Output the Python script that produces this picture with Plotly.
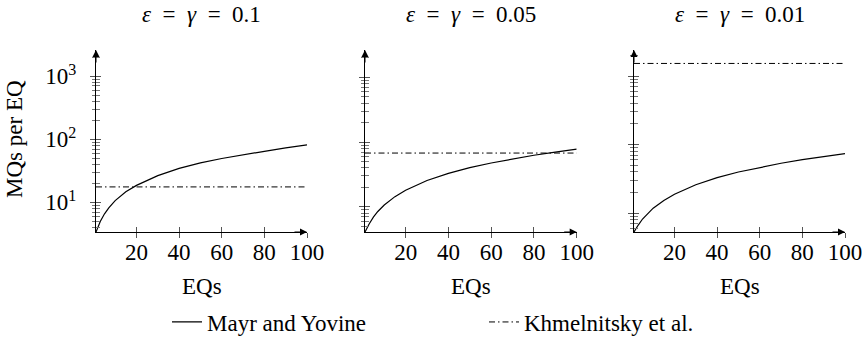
import plotly.graph_objects as go

# ---- data ----
eqs = [1, 2, 3, 5, 7, 10, 15, 20, 30, 40, 50, 60, 70, 80, 90, 100]
mayr_010 = [3.4, 4.2, 5.0, 6.6, 8.2, 10.7, 14.7, 18.6, 26.6, 34.6, 42.2, 49.6, 57.0, 64.5, 73.0, 81.7]
mayr_005 = [4.1, 4.8, 5.5, 7.0, 8.5, 10.7, 14.4, 18.1, 25.5, 32.9, 40.3, 47.6, 55.0, 62.6, 70.0, 77.8]
mayr_001 = [5.3, 6.0, 6.7, 8.2, 9.6, 11.8, 15.3, 18.9, 25.9, 32.9, 39.8, 46.6, 53.4, 60.2, 67.0, 73.9]
khmel = [17.6, 67.7, 1530.0]
SP = "\u2005"
titles = [f"<i>ε</i>{SP} = {SP}<i>γ</i>{SP} = {SP}0.1",
          f"<i>ε</i>{SP} = {SP}<i>γ</i>{SP} = {SP}0.05",
          f"<i>ε</i>{SP} = {SP}<i>γ</i>{SP} = {SP}0.01"]
series = [mayr_010, mayr_005, mayr_001]
xticks = [20, 40, 60, 80, 100]
yticks = [10, 100, 1000]
yticktext = ["10<sup>1</sup>", "10<sup>2</sup>", "10<sup>3</sup>"]

FONT = "Liberation Serif, DejaVu Serif, serif"
FS = 23
W, H = 867, 345

xdoms = [[96 / W, 307 / W], [365 / W, 576.7 / W], [634 / W, 845 / W]]
ydom = [1 - 232 / H, 1 - 50 / H]
yranges = [[0.5315, 3.414], [0.6128, 3.42], [0.7243, 3.381]]

fig = go.Figure()
layout = dict(
    width=W, height=H, margin=dict(l=0, r=0, t=0, b=0, autoexpand=False),
    paper_bgcolor="white", plot_bgcolor="white",
    font=dict(family=FONT, size=FS, color="black"),
    showlegend=True,
    legend=dict(orientation="h", x=167 / W, xanchor="left", y=1 - 322 / H, yanchor="middle",
                font=dict(family=FONT, size=FS), bgcolor="rgba(0,0,0,0)",
                entrywidth=272, entrywidthmode="pixels", tracegroupgap=0),
)
annotations = []

for i in range(3):
    n = i + 1
    xa = "x" if n == 1 else f"x{n}"
    ya = "y" if n == 1 else f"y{n}"
    xo, yo = f"x{n + 3}", f"y{n + 3}"
    fig.add_trace(go.Scatter(x=eqs, y=series[i], mode="lines", line=dict(color="black", width=1.2),
                             name="Mayr and Yovine", showlegend=(i == 0), xaxis=xa, yaxis=ya))
    fig.add_trace(go.Scatter(x=[eqs[0], eqs[-1]], y=[khmel[i], khmel[i]], mode="lines",
                             line=dict(color="black", width=1, dash="6px,3px,1.5px,3px"),
                             name="Khmelnitsky et al.", showlegend=(i == 0), xaxis=xa, yaxis=ya))
    # dummy traces to create the overlay axes (tick marks crossing the axis)
    fig.add_trace(go.Scatter(x=[None], y=[None], showlegend=False, xaxis=xo, yaxis=ya, hoverinfo="skip"))
    fig.add_trace(go.Scatter(x=[None], y=[None], showlegend=False, xaxis=xa, yaxis=yo, hoverinfo="skip"))

    xkey = "xaxis" if n == 1 else f"xaxis{n}"
    ykey = "yaxis" if n == 1 else f"yaxis{n}"
    layout[xkey] = dict(domain=xdoms[i], anchor=ya, range=[1, 100], showgrid=False, zeroline=False,
                        showline=True, linecolor="black", linewidth=1,
                        tickmode="array", tickvals=xticks, ticks="outside", ticklen=5,
                        tickcolor="#555", tickwidth=1, ticklabelstandoff=-6,
                        tickfont=dict(family=FONT, size=FS))
    layout[f"xaxis{n + 3}"] = dict(overlaying=xa, anchor=ya, range=[1, 100], showgrid=False,
                                   zeroline=False, showline=False, tickmode="array", tickvals=xticks,
                                   ticks="inside", ticklen=5, tickcolor="#555", tickwidth=1,
                                   showticklabels=False)
    layout[ykey] = dict(domain=ydom, anchor=xa, type="log", range=yranges[i], showgrid=False,
                        zeroline=False, showline=True, linecolor="black", linewidth=1,
                        tickmode="array", tickvals=yticks, ticktext=yticktext,
                        showticklabels=(i == 0), ticks="outside", ticklen=5,
                        tickcolor="#555", tickwidth=1, ticklabelstandoff=9,
                        tickfont=dict(family=FONT, size=FS),
                        minor=dict(ticks="outside", ticklen=3, dtick="D1", tickcolor="#777",
                                   tickwidth=1, showgrid=False))
    layout[f"yaxis{n + 3}"] = dict(overlaying=ya, anchor=xa, type="log", range=yranges[i],
                                   showgrid=False, zeroline=False, showline=False,
                                   tickmode="array", tickvals=yticks, ticks="inside", ticklen=5,
                                   tickcolor="#555", tickwidth=1, showticklabels=False,
                                   minor=dict(ticks="inside", ticklen=4, dtick="D1", tickcolor="#777",
                                              tickwidth=1, showgrid=False))
    xd = f"{xa} domain"
    yd = f"{ya} domain"
    # arrows at axis ends
    annotations.append(dict(x=0, y=1, xref=xd, yref=yd, text="", showarrow=True, ax=0, ay=14,
                            arrowhead=2, arrowsize=1.4, arrowwidth=1, arrowcolor="black", standoff=0))
    annotations.append(dict(x=1, y=0, xref=xd, yref=yd, text="", showarrow=True, ax=-14, ay=0,
                            arrowhead=2, arrowsize=1.4, arrowwidth=1, arrowcolor="black", standoff=0))
    # subplot title
    annotations.append(dict(x=0.5, y=1 - 14 / H, xref=xd, yref="paper", text=titles[i], showarrow=False,
                            font=dict(family=FONT, size=FS), xanchor="center", yanchor="middle"))
    # x-axis title
    annotations.append(dict(x=0.5, y=1 - 286 / H, xref=xd, yref="paper", text="EQs", showarrow=False,
                            font=dict(family=FONT, size=FS), xanchor="center", yanchor="middle"))

annotations.append(dict(x=14 / W, y=1 - 139 / H, xref="paper", yref="paper", text="MQs per EQ",
                        textangle=-90, showarrow=False, font=dict(family=FONT, size=FS),
                        xanchor="center", yanchor="middle"))
layout["annotations"] = annotations
fig.update_layout(**layout)
fig.write_html("out.html", config={"displayModeBar": False, "staticPlot": False},
               post_script="document.body.style.margin='0';document.body.style.padding='0';")
